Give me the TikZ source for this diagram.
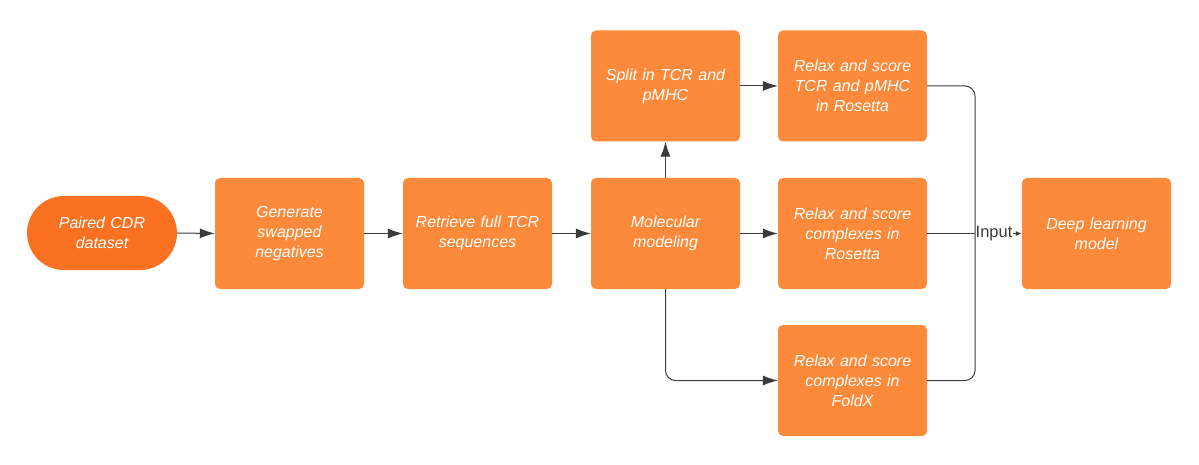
\documentclass[tikz,border=0pt]{standalone}
\usepackage{fontspec}
\setmainfont{Liberation Sans}
\usetikzlibrary{arrows.meta,positioning}
\definecolor{boxor}{HTML}{FD8A3A}
\definecolor{startor}{HTML}{FA7122}
\definecolor{linegray}{HTML}{3A3A3A}
\tikzset{
  stepbox/.style={fill=boxor, rounded corners=5pt, minimum width=149pt, minimum height=111pt,
    text width=140pt, align=center, text=white, font=\fontsize{16pt}{20pt}\selectfont\itshape, inner sep=0pt},
  startbox/.style={fill=startor, rounded corners=37pt, minimum width=150pt, minimum height=74pt,
    text width=135pt, align=center, text=white, font=\fontsize{16pt}{20pt}\selectfont\itshape, inner sep=0pt},
  conn/.style={draw=linegray, line width=1pt, -{Latex[length=15pt,width=10pt]}},
  plainline/.style={draw=linegray, line width=1pt}
}
\begin{document}
\begin{tikzpicture}[x=1pt,y=-1pt]
\useasboundingbox (0,0) rectangle (1199,465);
\node[startbox] (pc) at (102,233) {Paired CDR\\dataset};
\node[stepbox] (gen) at (289.5,233.5) {Generate\\swapped\\negatives};
\node[stepbox] (ret) at (477.5,233.5) {Retrieve full TCR\\sequences};
\node[stepbox] (mm) at (665.5,233.5) {Molecular\\modeling};
\node[stepbox] (sp) at (665.5,86) {Split in TCR and\\pMHC};
\node[stepbox] (rt) at (852.5,86) {Relax and score\\TCR and pMHC\\in Rosetta};
\node[stepbox] (rc) at (852.5,233.5) {Relax and score\\complexes in\\Rosetta};
\node[stepbox] (fx) at (852.5,380.5) {Relax and score\\complexes in\\FoldX};
\node[stepbox] (dl) at (1096.5,233.5) {Deep learning\\model};
\node[anchor=west, inner sep=0.5pt, text=linegray, font=\fontsize{16.5pt}{18pt}\selectfont] (inp) at (975,233.5) {Input};

\draw[conn] (pc.east) -- (gen.west);
\draw[conn] (gen) -- (ret);
\draw[conn] (ret) -- (mm);
\draw[conn] (mm) -- (sp);
\draw[conn] (sp) -- (rt);
\draw[conn] (mm) -- (rc);
\draw[conn, rounded corners=10pt] (mm.south) |- (fx.west);
\draw[plainline, rounded corners=10pt] (rt.east) -| (inp.west);
\draw[plainline, rounded corners=10pt] (fx.east) -| (inp.west);
\draw[plainline] (rc.east) -- (inp.west);
\draw[draw=linegray, line width=1pt, -{Latex[length=6pt,width=5pt]}] (inp.east) -- (dl.west);
\end{tikzpicture}
\end{document}
